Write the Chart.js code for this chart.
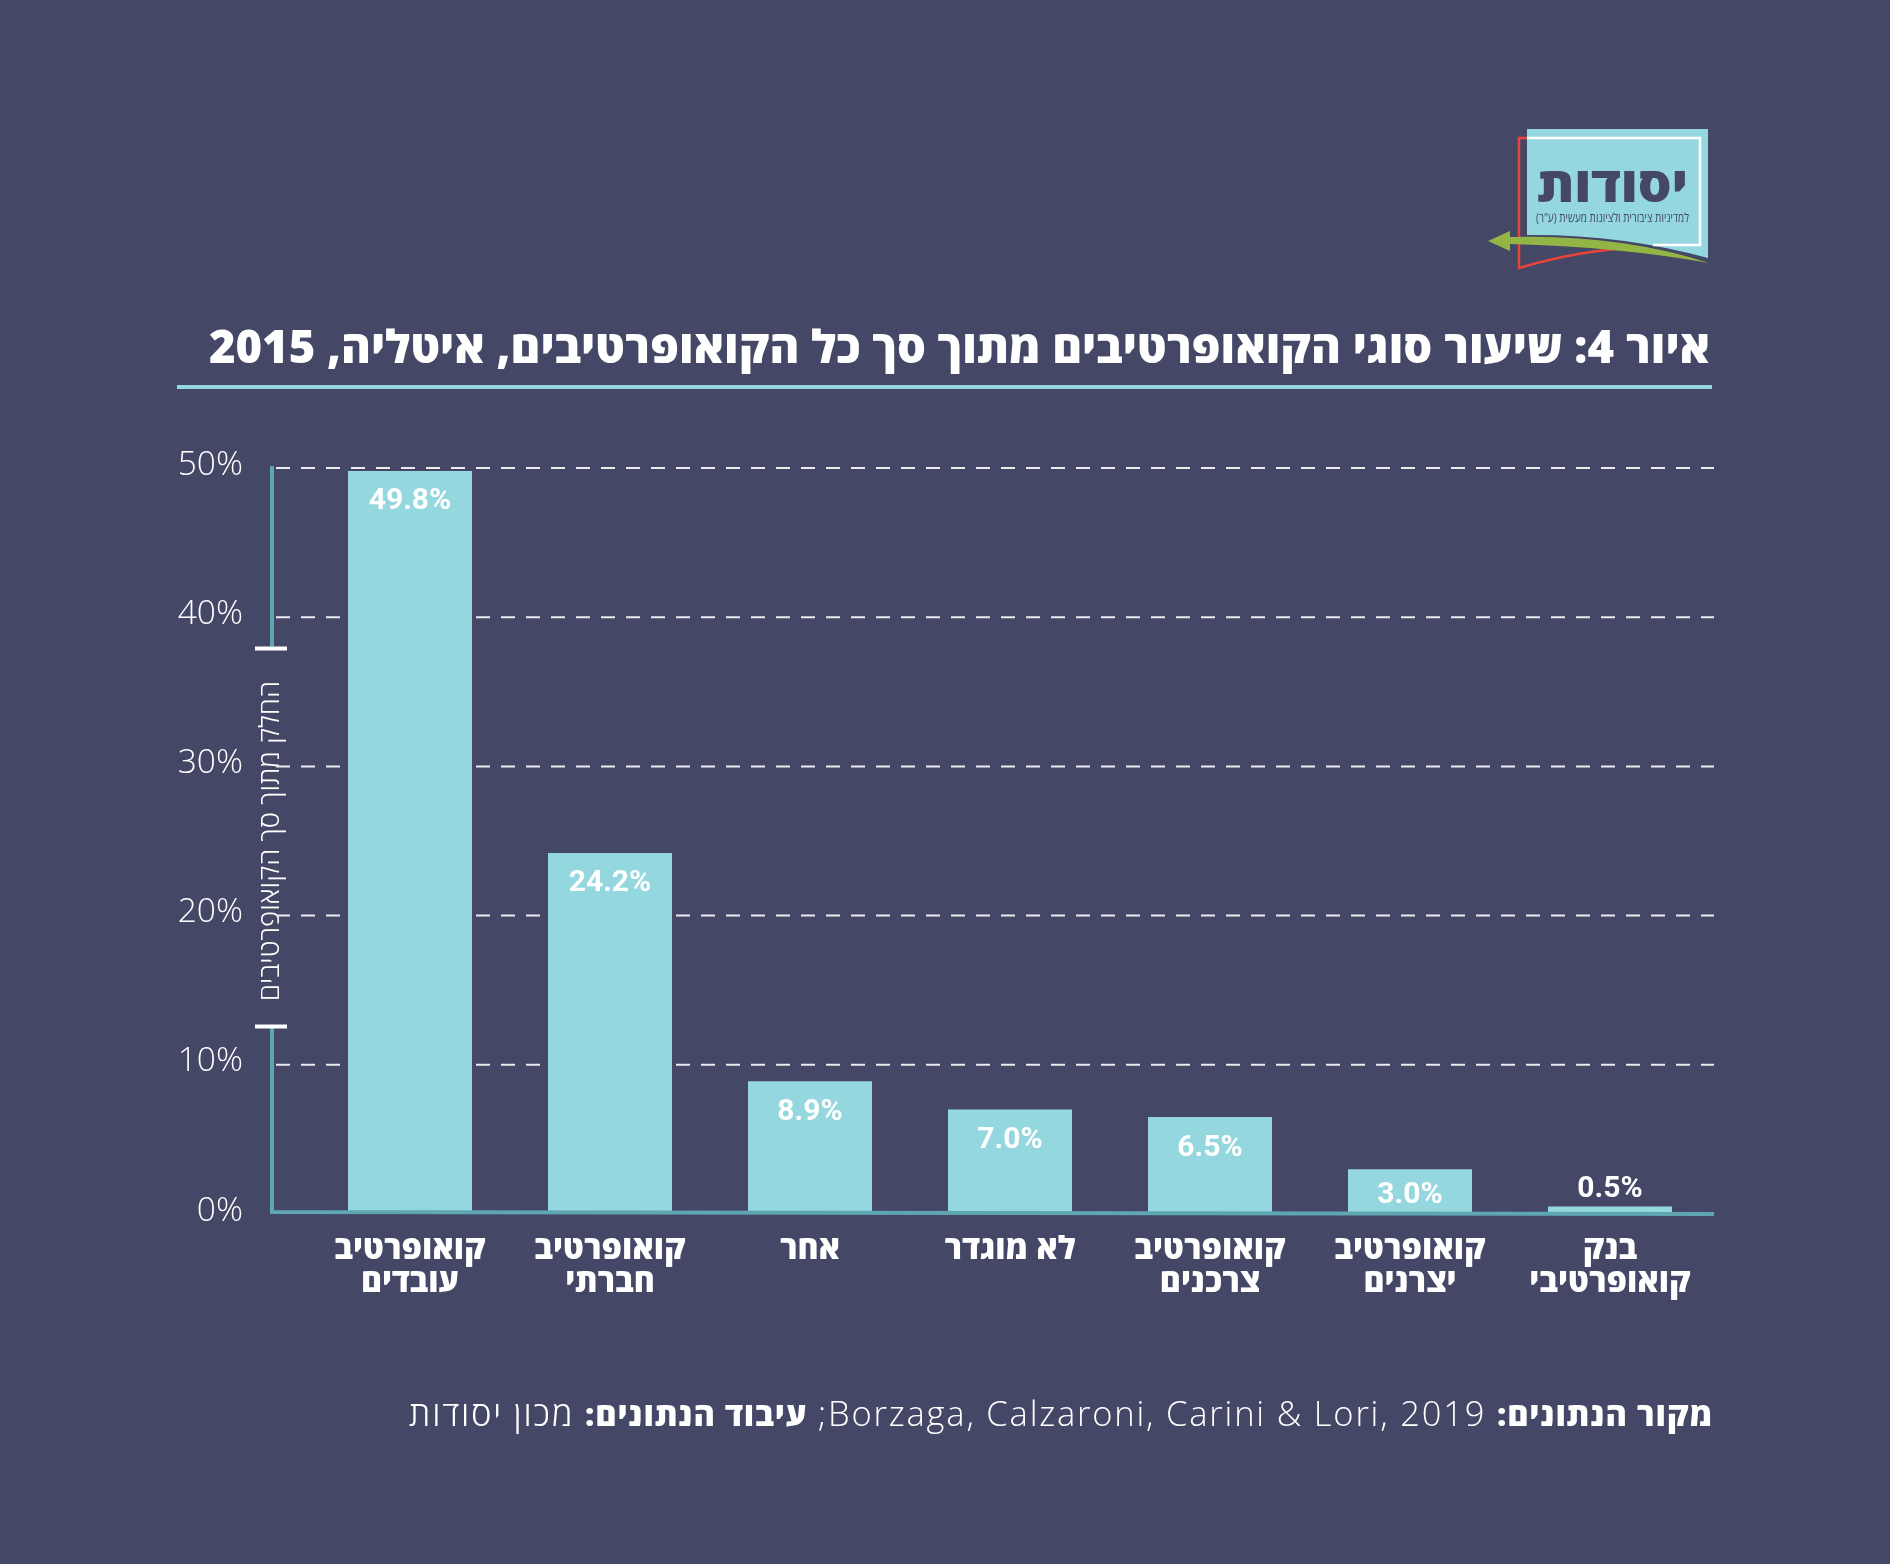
<!DOCTYPE html>
<html lang="he">
<head>
<meta charset="utf-8">
<script src="https://cdn.jsdelivr.net/npm/chart.js@4"></script>
<style>
  html, body { margin: 0; padding: 0; background: #444766; }
  #wrap { position: relative; width: 1890px; height: 1564px; overflow: hidden; }
  #chart { position: absolute; left: 0; top: 0; }
  #logo { position: absolute; left: 1480px; top: 120px; }
  #source {
    position: absolute; right: 177px; top: 1391px; direction: rtl; white-space: nowrap;
    font: 300 34.5px "Open Sans", sans-serif; color: #fff; line-height: 44px; letter-spacing: 1.8px;
  }
  #source b { font-weight: 800; font-size: 32.5px; letter-spacing: 0.8px; }
</style>
</head>
<body>
<div id="wrap">
  <canvas id="chart" dir="rtl" width="1890" height="1564"></canvas>
  <svg id="logo" width="240" height="160" viewBox="1480 120 240 160" xmlns="http://www.w3.org/2000/svg">
    <path d="M1527 129H1708V258Q1620 234 1527 235Z" fill="#94d7df"/>
    <path d="M1527 138H1700V245H1653" fill="none" stroke="#fff" stroke-width="2.5"/>
    <path d="M1527 138H1519V268Q1580 250 1634 248" fill="none" stroke="#e8443a" stroke-width="2.5"/>
    <path d="M1488 241L1510 231V237Q1620 234 1709 263Q1620 247 1510 244V251Z" fill="#93b545"/>
    <text x="1612.5" y="202" text-anchor="middle" direction="rtl" font-family="Open Sans" font-weight="800" font-size="48" fill="#444766" textLength="151" lengthAdjust="spacingAndGlyphs">יסודות</text>
    <text x="1612.5" y="222" text-anchor="middle" direction="rtl" font-family="Open Sans" font-weight="400" font-size="12.5" fill="#444766" textLength="153" lengthAdjust="spacingAndGlyphs">למדיניות ציבורית ולציונות מעשית (ע"ר)</text>
  </svg>
  <div id="source"><b>מקור הנתונים:</b> Borzaga, Calzaroni, Carini &amp; Lori, 2019; <b>עיבוד הנתונים:</b> מכון יסודות</div>
</div>
<script>
const categories = [
  ['קואופרטיב', 'עובדים'],
  ['קואופרטיב', 'חברתי'],
  'אחר',
  'לא מוגדר',
  ['קואופרטיב', 'צרכנים'],
  ['קואופרטיב', 'יצרנים'],
  ['בנק', 'קואופרטיבי'],
];
const shares = [49.8, 24.2, 8.9, 7.0, 6.5, 3.0, 0.5];
const shareLabels = ['49.8%', '24.2%', '8.9%', '7.0%', '6.5%', '3.0%', '0.5%'];

const chartTitle = 'איור 4: שיעור סוגי הקואופרטיבים מתוך סך כל הקואופרטיבים, איטליה, 2015';
const yTitle = 'החלק מתוך סך הקואופרטיבים';

const BAR = '#94d7df';
const AXIS = '#5fa6b3';

// grid runs a bit past the plot area on both sides, axis has a gap for its title
const frame = {
  id: 'frame',
  beforeDatasetsDraw(chart) {
    const { ctx } = chart;
    const y = chart.scales.y;
    ctx.save();
    ctx.strokeStyle = '#ececf0';
    ctx.lineWidth = 2;
    ctx.setLineDash([14, 11]);
    y.ticks.forEach((t) => {
      if (t.value === 0) return;
      const py = y.getPixelForValue(t.value);
      ctx.beginPath();
      ctx.moveTo(276, py);
      ctx.lineTo(1714, py);
      ctx.stroke();
    });
    ctx.restore();
  },
  afterDatasetsDraw(chart) {
    const { ctx } = chart;
    const y = chart.scales.y;
    const top = y.getPixelForValue(50);
    const base = y.getPixelForValue(0);
    ctx.save();
    ctx.strokeStyle = AXIS;
    ctx.lineWidth = 4;
    ctx.beginPath();
    ctx.moveTo(272, top - 2);
    ctx.lineTo(272, 648);
    ctx.moveTo(272, 1027);
    ctx.lineTo(272, base - 2);
    ctx.lineTo(1714, base);
    ctx.stroke();
    ctx.strokeStyle = '#fff';
    ctx.beginPath();
    ctx.moveTo(255, 648.5);
    ctx.lineTo(287, 648.5);
    ctx.moveTo(255, 1026.5);
    ctx.lineTo(287, 1026.5);
    ctx.stroke();
    // heading rule
    ctx.strokeStyle = BAR;
    ctx.beginPath();
    ctx.moveTo(177, 387);
    ctx.lineTo(1712, 387);
    ctx.stroke();

    // value labels
    ctx.fillStyle = '#fff';
    ctx.font = '700 30px Roboto';
    ctx.textAlign = 'center';
    ctx.textBaseline = 'middle';
    chart.getDatasetMeta(0).data.forEach((bar, i) => {
      const v = shares[i];
      const off = v >= 5 ? 31 : v >= 1 ? 26 : -17;
      ctx.fillText(shareLabels[i], bar.x, bar.y + off);
    });
    ctx.restore();
  },
};

new Chart(document.getElementById('chart'), {
  type: 'bar',
  data: {
    labels: categories,
    datasets: [
      {
        data: shares,
        backgroundColor: BAR,
        borderWidth: 0,
        barPercentage: 0.62,
        categoryPercentage: 1,
      },
    ],
  },
  options: {
    responsive: false,
    animation: false,
    layout: { padding: { left: 0, right: 180, top: 0, bottom: 0 } },
    plugins: {
      legend: { display: false },
      tooltip: { enabled: false },
      title: {
        display: true,
        text: chartTitle,
        align: 'end',
        color: '#fff',
        font: { family: 'Open Sans', size: 45.4, weight: '800', lineHeight: 1.2 },
        padding: { top: 323, bottom: 90.5 },
      },
    },
    scales: {
      x: {
        grid: { display: false, drawTicks: false },
        border: { display: false },
        afterFit(scale) {
          scale.height = 350;
        },
        ticks: {
          autoSkip: false,
          maxRotation: 0,
          padding: 19,
          color: '#fff',
          font: { family: 'Open Sans', size: 32, weight: '800', lineHeight: 1.04 },
        },
      },
      y: {
        min: 0,
        max: 50,
        afterFit(scale) {
          scale.width = 310;
        },
        grid: { display: false, drawTicks: false },
        border: { display: false },
        title: {
          display: true,
          text: yTitle,
          color: '#fff',
          font: { family: 'Open Sans', size: 27.6, weight: '300', lineHeight: 1.2 },
          padding: { top: 255, bottom: 0 },
        },
        ticks: {
          stepSize: 10,
          padding: 67,
          labelOffset: -3,
          color: '#fff',
          font: { family: 'Open Sans', size: 33.5, weight: '300' },
          callback: (v) => v + '%',
        },
      },
    },
  },
  plugins: [frame],
});
</script>
</body>
</html>
